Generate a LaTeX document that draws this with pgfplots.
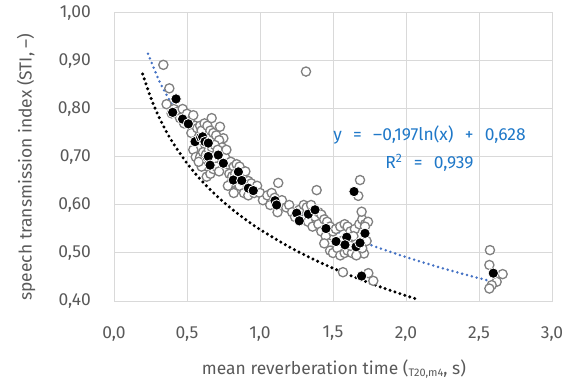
\documentclass[border=0pt]{standalone}
\usepackage{pgfplots}
\pgfplotsset{compat=1.18}
\usepackage{fontspec}
\setmainfont{Fira Sans}
\definecolor{txtgray}{RGB}{89,89,89}
\definecolor{gridgray}{RGB}{217,217,217}
\definecolor{mkgray}{RGB}{128,128,128}
\definecolor{trendblue}{RGB}{68,114,196}
\definecolor{eqblue}{RGB}{31,120,200}
\newcommand{\fs}{\fontsize{17.5}{20}\selectfont}
\begin{document}
\begin{tikzpicture}
\useasboundingbox (0,0) rectangle (576bp,381bp);
\begin{axis}[
  at={(114bp,80bp)}, anchor=south west,
  scale only axis, width=438bp, height=288bp,
  xmin=0, xmax=3, ymin=0.4, ymax=1.0,
  xtick={0,0.5,...,3.0}, ytick={0.4,0.5,...,1.0},
  grid=major, major grid style={gridgray, line width=1bp},
  axis line style={gridgray, line width=1bp},
  major tick length=0pt,
  tick label style={font=\fs, text=txtgray, inner sep=0pt},
  xticklabel shift=25bp, yticklabel shift=23bp,
  /pgf/number format/assume math mode=true,
  xticklabel={\pgfmathprintnumber[fixed,fixed zerofill,precision=1,use comma]{\tick}},
  yticklabel={\pgfmathprintnumber[fixed,fixed zerofill,precision=2,use comma]{\tick}},
  clip=false,
]
% gray open circles
\addplot[only marks, mark=*, mark size=4.6bp, mark options={draw=mkgray, fill=white, line width=1.3bp}] coordinates {
(0.338,0.892)(0.379,0.843)(0.36,0.81)(0.395,0.791)(0.41,0.80)(0.44,0.795)(0.452,0.781)(0.47,0.80)(0.50,0.79)(0.48,0.77)(0.52,0.775)(0.543,0.787)(0.555,0.765)(0.555,0.749)(0.53,0.75)(0.57,0.76)(0.59,0.765)(0.60,0.755)(0.62,0.77)(0.64,0.765)(0.669,0.781)(0.66,0.755)(0.68,0.75)(0.70,0.745)(0.726,0.763)(0.749,0.739)(0.72,0.735)(0.74,0.72)(0.58,0.74)(0.60,0.725)(0.57,0.72)(0.543,0.715)(0.56,0.70)(0.59,0.70)(0.61,0.71)(0.63,0.705)(0.65,0.715)(0.67,0.72)(0.69,0.725)(0.71,0.715)(0.737,0.687)(0.76,0.70)(0.77,0.715)(0.62,0.685)(0.64,0.68)(0.635,0.659)(0.66,0.665)(0.68,0.675)(0.70,0.68)(0.72,0.67)(0.60,0.68)(0.58,0.69)
(0.78,0.685)(0.80,0.69)(0.82,0.68)(0.84,0.685)(0.86,0.68)(0.79,0.665)(0.81,0.66)(0.83,0.665)(0.88,0.665)(0.90,0.67)(0.84,0.645)(0.86,0.64)(0.88,0.65)(0.80,0.645)(0.92,0.65)(0.94,0.645)(0.89,0.625)(0.92,0.62)(0.96,0.625)(0.98,0.64)(1.0,0.625)(0.78,0.64)(0.82,0.625)(1.02,0.61)(1.05,0.62)(1.08,0.625)(1.10,0.615)(1.07,0.60)(1.125,0.646)(1.13,0.605)(1.15,0.61)(1.12,0.585)(1.18,0.595)(1.20,0.60)
(1.22,0.585)(1.24,0.575)(1.27,0.59)(1.30,0.60)(1.32,0.595)(1.35,0.60)(1.36,0.58)(1.30,0.57)(1.33,0.565)(1.38,0.575)(1.40,0.585)(1.42,0.58)(1.388,0.631)(1.36,0.555)(1.40,0.56)(1.44,0.57)(1.46,0.565)(1.48,0.555)(1.42,0.545)(1.45,0.535)(1.47,0.52)(1.50,0.545)(1.52,0.55)(1.55,0.555)(1.58,0.56)(1.60,0.555)(1.62,0.545)(1.65,0.55)(1.68,0.56)(1.70,0.57)(1.72,0.56)(1.74,0.565)(1.696,0.586)(1.673,0.619)(1.685,0.652)(1.719,0.555)(1.712,0.499)(1.48,0.505)(1.50,0.50)(1.53,0.51)(1.55,0.495)(1.58,0.50)(1.60,0.505)(1.63,0.50)(1.66,0.495)(1.70,0.51)(1.73,0.525)(1.56,0.525)(1.60,0.53)(1.64,0.535)(1.44,0.52)(1.62,0.515)
(1.568,0.460)(1.742,0.458)(1.776,0.442)(1.315,0.878)
(2.575,0.506)(2.571,0.475)(2.662,0.456)(2.621,0.440)(2.587,0.433)(2.571,0.426)
};
% black filled circles
\addplot[only marks, mark=*, mark size=5.2bp, mark options={draw=white, fill=black, line width=0.8bp}] coordinates {
(0.425,0.821)(0.402,0.793)(0.470,0.779)(0.509,0.769)(0.555,0.732)(0.594,0.741)(0.607,0.742)(0.623,0.732)(0.646,0.729)(0.639,0.699)(0.646,0.701)(0.714,0.704)(0.658,0.683)(0.749,0.687)(0.852,0.669)(0.817,0.652)(0.875,0.651)(0.920,0.635)(0.954,0.630)(1.103,0.609)(1.114,0.600)(1.251,0.583)(1.269,0.567)(1.331,0.581)(1.377,0.590)(1.452,0.551)(1.521,0.524)(1.594,0.533)(1.582,0.517)(1.658,0.513)(1.685,0.521)(1.719,0.541)(1.644,0.628)(1.696,0.452)(2.598,0.458)
};
% black dotted curve
\addplot[black, smooth, line width=3.4bp, line cap=round, dash pattern=on 0pt off 5.2bp] coordinates {
(0.196,0.873)(0.25,0.825)(0.3,0.7886)(0.35,0.7579)(0.4,0.7313)(0.5,0.6869)(0.6,0.6506)(0.7,0.6200)(0.8,0.5934)(0.9,0.5700)(1.0,0.549)(1.2,0.5127)(1.4,0.4820)(1.6,0.4555)(1.8,0.4320)(2.0,0.4111)(2.08,0.4033)
};
% blue trend line
\addplot[trendblue, smooth, line width=2.8bp, line cap=round, dash pattern=on 0pt off 5bp] coordinates {
(0.233,0.915)(0.3,0.8652)(0.35,0.8348)(0.4,0.8085)(0.5,0.7645)(0.6,0.7286)(0.7,0.6983)(0.8,0.6720)(0.9,0.6488)(1.0,0.628)(1.2,0.5921)(1.4,0.5617)(1.6,0.5354)(1.8,0.5122)(2.0,0.4915)(2.2,0.4727)(2.4,0.4555)(2.57,0.4421)
};
\end{axis}
% equation
\node[text=eqblue, font=\fs, anchor=center] at (429.5bp,246bp) {y\hspace{0.65em}=\hspace{0.65em}–0,197ln(x)\hspace{0.65em}+\hspace{0.65em}0,628};
\node[text=eqblue, font=\fs, anchor=center] at (429.5bp,218bp) {R\textsuperscript{2}\hspace{0.65em}=\hspace{0.65em}0,939};
% axis labels
\node[text=txtgray, font=\fs, rotate=90, anchor=center] at (26bp,214bp) {speech transmission index (STI, –)};
\node[text=txtgray, font=\fs, anchor=center] at (334bp,12bp) {mean reverberation time ({\fontsize{11}{12}\selectfont\raisebox{-0.35ex}{T20,m4}}, s)};
\end{tikzpicture}
\end{document}
